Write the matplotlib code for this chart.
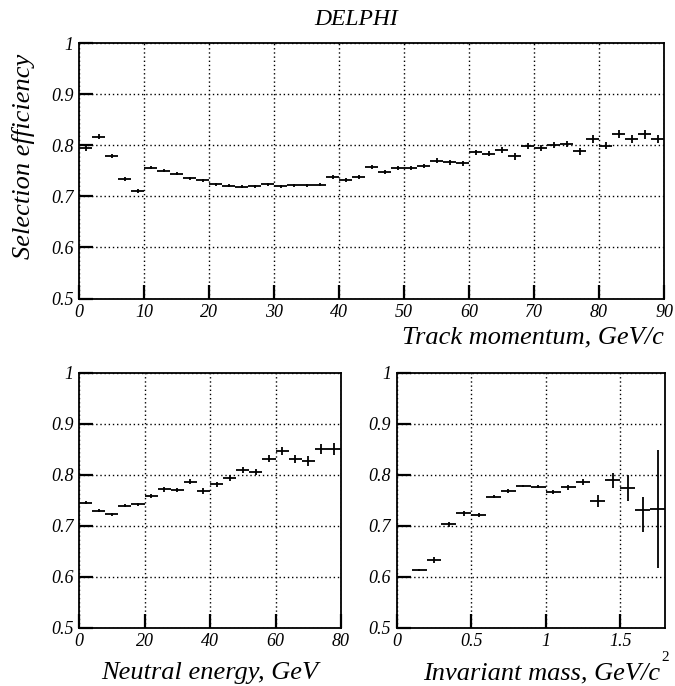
import numpy as np
import matplotlib
matplotlib.use('Agg')
import matplotlib.pyplot as plt
from matplotlib.ticker import FormatStrFormatter

plt.rcParams['font.family'] = ['Liberation Serif', 'DejaVu Serif']
plt.rcParams['font.style'] = 'italic'

# Track momentum (GeV/c), bins of width 2
p_centers = list(range(1, 90, 2))
p_halfwidth = 1.0
p_eff = [0.795, 0.817, 0.778, 0.733, 0.710, 0.756, 0.750, 0.744, 0.735, 0.731,
         0.724, 0.721, 0.719, 0.720, 0.724, 0.720, 0.722, 0.722, 0.723, 0.737,
         0.732, 0.737, 0.758, 0.747, 0.756, 0.755, 0.760, 0.770, 0.767, 0.765,
         0.786, 0.783, 0.790, 0.778, 0.799, 0.795, 0.801, 0.802, 0.788, 0.812,
         0.799, 0.822, 0.812, 0.821, 0.812]
p_err = [0.006, 0.004, 0.004, 0.004, 0.004, 0.003, 0.003, 0.003, 0.003, 0.003,
         0.003, 0.003, 0.003, 0.003, 0.003, 0.003, 0.003, 0.003, 0.003, 0.004,
         0.004, 0.004, 0.004, 0.004, 0.004, 0.004, 0.004, 0.005, 0.005, 0.005,
         0.005, 0.005, 0.006, 0.006, 0.006, 0.006, 0.006, 0.006, 0.007, 0.007,
         0.007, 0.007, 0.008, 0.008, 0.008]

# Neutral energy (GeV), bins of width 4
e_centers = list(range(2, 80, 4))
e_halfwidth = 2.0
e_eff = [0.745, 0.729, 0.722, 0.739, 0.742, 0.758, 0.771, 0.770, 0.786, 0.768,
         0.781, 0.793, 0.810, 0.806, 0.831, 0.846, 0.830, 0.827, 0.850, 0.850]
e_err = [0.003, 0.003, 0.003, 0.003, 0.003, 0.004, 0.004, 0.004, 0.005, 0.005,
         0.005, 0.006, 0.006, 0.006, 0.007, 0.008, 0.008, 0.009, 0.010, 0.012]

# Invariant mass (GeV/c^2), bins of width 0.1
m_centers = [0.15, 0.25, 0.35, 0.45, 0.55, 0.65, 0.75, 0.85, 0.95, 1.05,
             1.15, 1.25, 1.35, 1.45, 1.55, 1.65, 1.75]
m_halfwidth = 0.05
m_eff = [0.614, 0.633, 0.703, 0.724, 0.721, 0.757, 0.768, 0.778, 0.776, 0.766,
         0.775, 0.785, 0.748, 0.789, 0.773, 0.731, 0.733]
m_err_lo = [0.002, 0.006, 0.005, 0.004, 0.003, 0.003, 0.003, 0.002, 0.003, 0.004,
            0.005, 0.006, 0.012, 0.015, 0.025, 0.044, 0.115]
m_err_hi = [0.002, 0.006, 0.005, 0.004, 0.003, 0.003, 0.003, 0.002, 0.003, 0.004,
            0.005, 0.006, 0.012, 0.015, 0.026, 0.025, 0.115]

W, H = 675, 686
fig = plt.figure(figsize=(W / 100, H / 100), dpi=100)


def px_axes(left, top, right, bottom):
    return fig.add_axes([left / W, 1 - bottom / H, (right - left) / W, (bottom - top) / H])


def style(ax, xlim, xticks):
    ax.set_xlim(*xlim)
    ax.set_ylim(0.5, 1.0)
    ax.set_xticks(xticks)
    ax.set_yticks([0.5, 0.6, 0.7, 0.8, 0.9, 1.0])
    ax.xaxis.set_major_formatter(FormatStrFormatter('%g'))
    ax.yaxis.set_major_formatter(FormatStrFormatter('%g'))
    ax.grid(True, color='black', linestyle=(0, (1, 2)), linewidth=1.0)
    ax.set_axisbelow(True)
    ax.tick_params(direction='in', length=10, width=1.6, top=False, right=False,
                   labelsize=13, pad=4, colors='black')
    for s in ax.spines.values():
        s.set_linewidth(1.3)


def draw(ax, x, y, xe, ye):
    ax.errorbar(x, y, xerr=xe, yerr=ye, fmt='none', ecolor='black',
                elinewidth=1.3, capsize=0)


ax1 = px_axes(79, 43, 664, 298.5)
draw(ax1, p_centers, p_eff, p_halfwidth, p_err)
style(ax1, (0, 90), [0, 10, 20, 30, 40, 50, 60, 70, 80, 90])

ax2 = px_axes(79, 372.7, 341, 627.7)
draw(ax2, e_centers, e_eff, e_halfwidth, e_err)
style(ax2, (0, 80), [0, 20, 40, 60, 80])

ax3 = px_axes(396.7, 372.7, 665, 627.7)
draw(ax3, m_centers, m_eff, m_halfwidth, [m_err_lo, m_err_hi])
style(ax3, (0, 1.8), [0, 0.5, 1.0, 1.5])

fs = 19
fig.text(356 / W, 1 - 25 / H, 'DELPHI', ha='center', va='baseline', fontsize=17)
fig.text(24 / W, 1 - 156.5 / H, 'Selection efficiency', rotation=90,
         ha='center', va='center', fontsize=fs)
fig.text(664 / W, 1 - 343 / H, 'Track momentum, GeV/c', ha='right',
         va='baseline', fontsize=fs)
fig.text(210 / W, 1 - 679 / H, 'Neutral energy, GeV', ha='center',
         va='baseline', fontsize=fs)
fig.text(660 / W, 1 - 679 / H, 'Invariant mass, GeV/c', ha='right',
         va='baseline', fontsize=fs)
fig.text(661 / W, 1 - 661 / H, '2', ha='left', va='baseline', fontsize=11,
         style='normal')

fig.savefig('out.png', dpi=100)
